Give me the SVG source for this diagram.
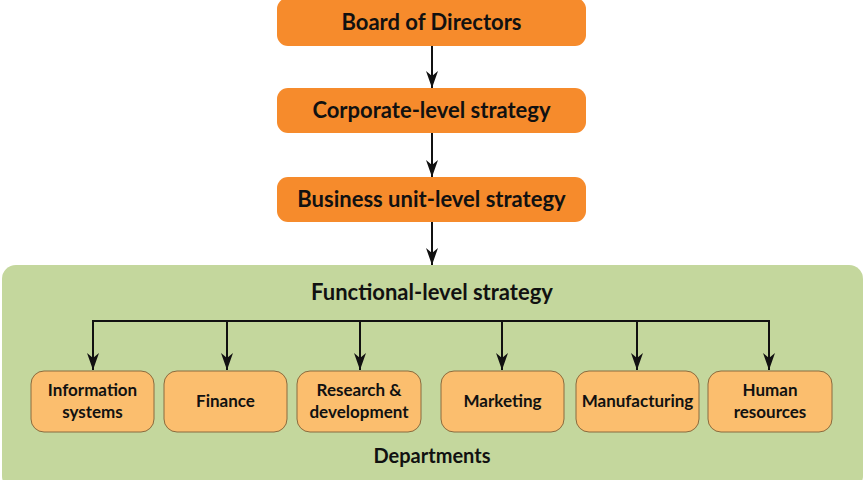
<svg xmlns="http://www.w3.org/2000/svg" width="864" height="480" viewBox="0 0 864 480">
<defs>
<style>
.top{fill:#F68B2C;}
.dept{fill:#FBBE6E;stroke:#8A6B3E;stroke-width:1;}
.panel{fill:#C4D79D;}
.t{font-family:Lato,"Open Sans","Liberation Sans",sans-serif;font-weight:bold;fill:#111;text-anchor:middle;}
.big{font-size:22px;}
.sm{font-size:17px;}
.ln{stroke:#111;stroke-width:2;fill:none;}
</style>
<marker id="ah" viewBox="0 0 17 12" refX="17" refY="6" markerWidth="17" markerHeight="12" markerUnits="userSpaceOnUse" orient="auto">
<path d="M0,0 L17,6 L0,12 L5,6 Z" fill="#111"/>
</marker>
</defs>
<g id="panel">
<rect class="panel" x="2" y="265" width="861" height="225" rx="14"/>
<text class="t big" x="432" y="300">Functional-level strategy</text>
<text class="t" x="432" y="463" style="font-size:20px">Departments</text>
</g>
<g id="board">
<rect class="top" x="277" y="-2" width="309" height="48" rx="11"/>
<text class="t big" x="431.5" y="30">Board of Directors</text>
</g>
<g id="corporate">
<rect class="top" x="277" y="88" width="309" height="45" rx="11"/>
<text class="t big" x="431.5" y="118">Corporate-level strategy</text>
</g>
<g id="business">
<rect class="top" x="277" y="177" width="309" height="45" rx="11"/>
<text class="t big" x="431.5" y="207">Business unit-level strategy</text>
</g>
<g id="connectors">
<line class="ln" x1="432" y1="46" x2="432" y2="88" marker-end="url(#ah)"/>
<line class="ln" x1="432" y1="133" x2="432" y2="177" marker-end="url(#ah)"/>
<line class="ln" x1="432" y1="222" x2="432" y2="265" marker-end="url(#ah)"/>
<polyline class="ln" points="93,360 93,321 769,321 769,360"/>
<line class="ln" x1="93" y1="321" x2="93" y2="370" marker-end="url(#ah)"/>
<line class="ln" x1="227" y1="321" x2="227" y2="370" marker-end="url(#ah)"/>
<line class="ln" x1="360" y1="321" x2="360" y2="370" marker-end="url(#ah)"/>
<line class="ln" x1="502" y1="321" x2="502" y2="370" marker-end="url(#ah)"/>
<line class="ln" x1="637" y1="321" x2="637" y2="370" marker-end="url(#ah)"/>
<line class="ln" x1="769" y1="321" x2="769" y2="370" marker-end="url(#ah)"/>
</g>
<g id="info">
<rect class="dept" x="31" y="371" width="123" height="61" rx="13"/>
<text class="t sm" x="92.5" y="396">Information</text>
<text class="t sm" x="92.5" y="418">systems</text>
</g>
<g id="finance">
<rect class="dept" x="164" y="371" width="123" height="61" rx="13"/>
<text class="t sm" x="225.5" y="407">Finance</text>
</g>
<g id="research">
<rect class="dept" x="297" y="371" width="124" height="61" rx="13"/>
<text class="t sm" x="359" y="396">Research &amp;</text>
<text class="t sm" x="359" y="418">development</text>
</g>
<g id="marketing">
<rect class="dept" x="441" y="371" width="123" height="61" rx="13"/>
<text class="t sm" x="502.5" y="407">Marketing</text>
</g>
<g id="manufacturing">
<rect class="dept" x="576" y="371" width="123" height="61" rx="13"/>
<text class="t sm" x="637.5" y="407">Manufacturing</text>
</g>
<g id="hr">
<rect class="dept" x="708" y="371" width="124" height="61" rx="13"/>
<text class="t sm" x="770" y="396">Human</text>
<text class="t sm" x="770" y="418">resources</text>
</g>
</svg>
